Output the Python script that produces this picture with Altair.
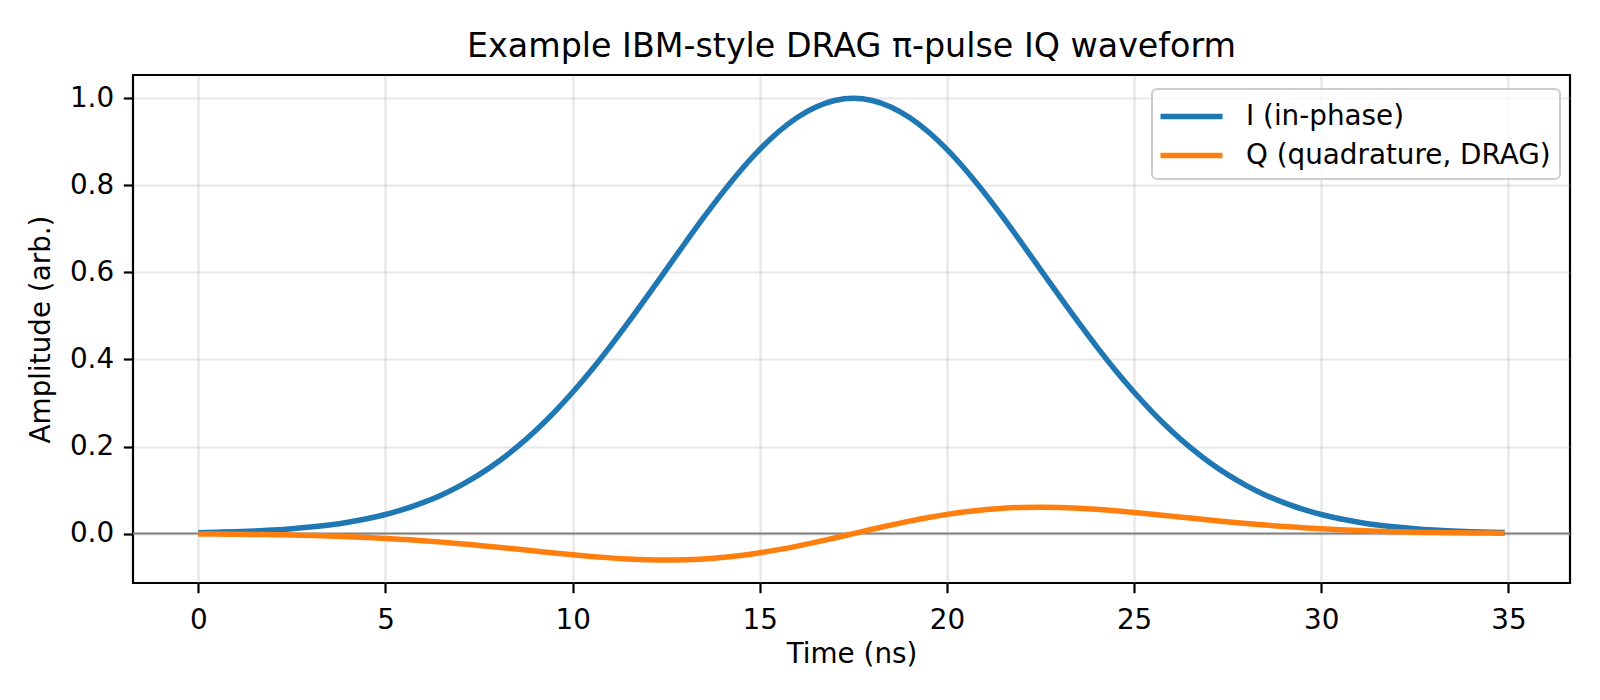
import altair as alt
import pandas as pd

# Sample times (ns)
time_ns = [
    0.0, 0.5, 1.0, 1.5, 2.0, 2.5, 3.0, 3.5, 4.0, 4.5,
    5.0, 5.5, 6.0, 6.5, 7.0, 7.5, 8.0, 8.5, 9.0, 9.5,
    10.0, 10.5, 11.0, 11.5, 12.0, 12.5, 13.0, 13.5, 14.0, 14.5,
    15.0, 15.5, 16.0, 16.5, 17.0, 17.5, 18.0, 18.5, 19.0, 19.5,
    20.0, 20.5, 21.0, 21.5, 22.0, 22.5, 23.0, 23.5, 24.0, 24.5,
    25.0, 25.5, 26.0, 26.5, 27.0, 27.5, 28.0, 28.5, 29.0, 29.5,
    30.0, 30.5, 31.0, 31.5, 32.0, 32.5, 33.0, 33.5, 34.0, 34.5,
    34.9,
]

# In-phase envelope
i_amp = [
    0.0022, 0.0031, 0.0043, 0.0060, 0.0082, 0.0111, 0.0149, 0.0198, 0.0261, 0.0341,
    0.0439, 0.0561, 0.0710, 0.0889, 0.1103, 0.1353, 0.1645, 0.1979, 0.2358, 0.2780,
    0.3247, 0.3753, 0.4296, 0.4868, 0.5461, 0.6065, 0.6670, 0.7262, 0.7827, 0.8353,
    0.8825, 0.9231, 0.9560, 0.9802, 0.9950, 1.0000, 0.9950, 0.9802, 0.9560, 0.9231,
    0.8825, 0.8353, 0.7827, 0.7262, 0.6670, 0.6065, 0.5461, 0.4868, 0.4296, 0.3753,
    0.3247, 0.2780, 0.2358, 0.1979, 0.1645, 0.1353, 0.1103, 0.0889, 0.0710, 0.0561,
    0.0439, 0.0341, 0.0261, 0.0198, 0.0149, 0.0111, 0.0082, 0.0060, 0.0043, 0.0031,
    0.0023,
]

# Quadrature (DRAG) component
q_amp = [
    -0.0008, -0.0011, -0.0014, -0.0019, -0.0025, -0.0033, -0.0043, -0.0056, -0.0071, -0.0089,
    -0.0110, -0.0135, -0.0163, -0.0196, -0.0232, -0.0271, -0.0312, -0.0356, -0.0401, -0.0445,
    -0.0487, -0.0525, -0.0558, -0.0584, -0.0601, -0.0607, -0.0600, -0.0581, -0.0548, -0.0501,
    -0.0441, -0.0369, -0.0287, -0.0196, -0.0100, 0.0000, 0.0100, 0.0196, 0.0287, 0.0369,
    0.0441, 0.0501, 0.0548, 0.0581, 0.0600, 0.0607, 0.0601, 0.0584, 0.0558, 0.0525,
    0.0487, 0.0445, 0.0401, 0.0356, 0.0312, 0.0271, 0.0232, 0.0196, 0.0163, 0.0135,
    0.0110, 0.0089, 0.0071, 0.0056, 0.0043, 0.0033, 0.0025, 0.0019, 0.0014, 0.0011,
    0.0008,
]

series_names = ["I (in-phase)", "Q (quadrature, DRAG)"]
series_colors = ["#1f77b4", "#ff7f0e"]
x_ticks = [0, 5, 10, 15, 20, 25, 30, 35]
y_ticks = [0.0, 0.2, 0.4, 0.6, 0.8, 1.0]

df = pd.concat([
    pd.DataFrame({"t": time_ns, "amp": i_amp, "series": series_names[0], "order": 0}),
    pd.DataFrame({"t": time_ns, "amp": q_amp, "series": series_names[1], "order": 1}),
])

FONT = "DejaVu Sans"
FS = 27.8

x_scale = alt.Scale(domain=[-1.745, 36.645], nice=False, zero=False)
y_scale = alt.Scale(domain=[-0.1135, 1.0535], nice=False, zero=False)

zero_line = alt.Chart(pd.DataFrame({"y": [0.0]})).mark_rule(
    color="#808080", strokeWidth=2.0
).encode(y=alt.Y("y:Q", scale=y_scale))

lines = alt.Chart(df).mark_line(strokeWidth=5.5, interpolate="monotone").encode(
    x=alt.X(
        "t:Q", scale=x_scale, title="Time (ns)",
        axis=alt.Axis(values=x_ticks, format="d", titleY=71, titleBaseline="middle"),
    ),
    y=alt.Y(
        "amp:Q", scale=y_scale, title="Amplitude (arb.)",
        axis=alt.Axis(values=y_ticks, format=".1f", titleX=-92, titleBaseline="middle"),
    ),
    color=alt.Color(
        "series:N",
        title=None,
        scale=alt.Scale(domain=series_names, range=series_colors),
        legend=alt.Legend(
            orient="none", legendX=1019, legendY=14,
            symbolType="M-2,0H2", symbolSize=961, symbolStrokeWidth=5.5,
            symbolFillColor="transparent",
            labelFont=FONT, labelFontSize=FS, labelColor="black", labelLimit=600,
            labelOffset=36, symbolOffset=12,
            padding=9, rowPadding=6, cornerRadius=5,
            fillColor="rgba(255,255,255,0.8)", strokeColor="#cccccc",
        ),
    ),
    detail="order:O",
)

chart = (zero_line + lines).properties(
    width=1437, height=508,
    title=alt.TitleParams(
        "Example IBM-style DRAG π-pulse IQ waveform",
        font=FONT, fontSize=33.3, fontWeight="normal", color="black",
        anchor="middle", baseline="alphabetic", offset=-15,
    ),
    autosize=alt.AutoSizeParams(type="none"),
    padding={"left": 133, "top": 75, "right": 30, "bottom": 117},
).configure_view(
    stroke="black", strokeWidth=2.2,
).configure_legend(
    strokeWidth=2,
).configure_axis(
    domain=False,
    grid=True, gridColor="#b0b0b0", gridOpacity=0.3, gridWidth=2.2,
    ticks=True, tickColor="black", tickWidth=2.2, tickSize=9.7,
    labelFont=FONT, labelFontSize=FS, labelColor="black",
    titleFont=FONT, titleFontSize=FS, titleColor="black", titleFontWeight="normal",
).configure_axisX(
    labelPadding=13.5,
).configure_axisY(
    labelPadding=9.7,
)

chart.save("out.html", embed_options={"renderer": "svg", "actions": False})
